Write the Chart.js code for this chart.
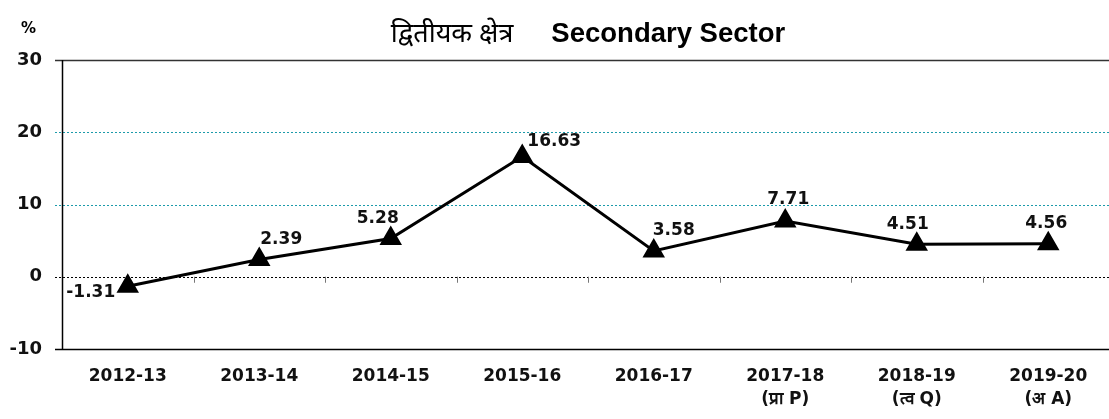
<!DOCTYPE html>
<html>
<head>
<meta charset="utf-8">
<script src="https://cdn.jsdelivr.net/npm/chart.js@4"></script>
<style>
  html, body { margin: 0; padding: 0; background: #fff; overflow: hidden; }
  canvas { display: block; }
</style>
</head>
<body>
<canvas id="sectorChart" width="1116" height="419"></canvas>
<script>
const years = [
  ['2012-13'], ['2013-14'], ['2014-15'], ['2015-16'], ['2016-17'],
  ['2017-18', '(प्रा P)'], ['2018-19', '(त्व Q)'], ['2019-20', '(अ A)']
];
const growth = [-1.31, 2.39, 5.28, 16.63, 3.58, 7.71, 4.51, 4.56];
const yTicks = [30, 20, 10, 0, -10];

// label nudges (x, y) relative to each point
const labelShift = [[-37, 6], [22, -20], [-13, -20], [32, -15], [20, -20], [3, -21], [-9, -20], [-2, -20]];

const BOLD = '"DejaVu Sans", sans-serif';

const decorPlugin = {
  id: 'decor',
  beforeDatasetsDraw(chart) {
    const { ctx, chartArea: { left, right, top, bottom }, scales: { x, y } } = chart;
    ctx.save();
    yTicks.forEach(v => {
      const yy = Math.round(y.getPixelForValue(v)) + 0.5;
      ctx.beginPath();
      if (v === 30 || v === -10) {
        ctx.setLineDash([]);
        ctx.strokeStyle = v === 30 ? '#333' : '#000';
        ctx.lineWidth = 1.5;
      } else if (v === 0) {
        ctx.setLineDash([2, 2]);
        ctx.strokeStyle = '#000';
        ctx.lineWidth = 1;
      } else {
        ctx.setLineDash([2, 2]);
        ctx.strokeStyle = '#1c9bab';
        ctx.lineWidth = 1;
      }
      ctx.moveTo(left - 7, yy);
      ctx.lineTo(right, yy);
      ctx.stroke();
    });
    // small ticks on the zero line at category boundaries
    ctx.setLineDash([]);
    ctx.strokeStyle = '#777';
    ctx.lineWidth = 1;
    const y0 = y.getPixelForValue(0);
    for (let i = 1; i < years.length; i++) {
      const xx = Math.round((x.getPixelForValue(i - 1) + x.getPixelForValue(i)) / 2) + 0.5;
      ctx.beginPath();
      ctx.moveTo(xx, y0);
      ctx.lineTo(xx, y0 + 6);
      ctx.stroke();
    }
    // left axis
    ctx.strokeStyle = '#000';
    ctx.lineWidth = 1.5;
    ctx.beginPath();
    ctx.moveTo(left + 0.5, top);
    ctx.lineTo(left + 0.5, bottom);
    ctx.stroke();
    ctx.restore();
  },
  afterDatasetsDraw(chart) {
    const { ctx } = chart;
    const meta = chart.getDatasetMeta(0);
    ctx.save();
    ctx.fillStyle = '#111';
    ctx.font = 'bold 17px ' + BOLD;
    ctx.textAlign = 'center';
    ctx.textBaseline = 'middle';
    meta.data.forEach((pt, i) => {
      const [dx, dy] = labelShift[i];
      ctx.fillText(growth[i].toFixed(2), pt.x + dx, pt.y + dy);
    });
    ctx.restore();
  },
  afterDraw(chart) {
    const { ctx } = chart;
    ctx.save();
    ctx.fillStyle = '#000';
    ctx.textBaseline = 'alphabetic';
    ctx.textAlign = 'left';
    ctx.font = 'bold 15px ' + BOLD;
    ctx.fillText('%', 21, 33);

    const hindi = 'द्वितीयक क्षेत्र';
    const eng = 'Secondary Sector';
    const hFont = '27px "Noto Sans", sans-serif';
    const eFont = 'bold 27.5px "Liberation Sans", Arial, sans-serif';
    ctx.font = hFont;
    const hw = ctx.measureText(hindi).width;
    ctx.font = eFont;
    const ew = ctx.measureText(eng).width;
    const gap = 38;
    const total = hw + gap + ew;
    const sx = 588 - total / 2;
    ctx.font = hFont;
    ctx.fillText(hindi, sx, 42);
    ctx.font = eFont;
    ctx.fillText(eng, sx + hw + gap, 42);
    ctx.restore();
  }
};

new Chart(document.getElementById('sectorChart'), {
  type: 'line',
  data: {
    labels: years,
    datasets: [{
      data: growth,
      borderColor: '#000',
      borderWidth: 3,
      backgroundColor: '#000',
      pointStyle: 'triangle',
      pointRadius: 10,
      pointHoverRadius: 10,
      pointBackgroundColor: '#000',
      pointBorderColor: '#000',
      tension: 0
    }]
  },
  options: {
    responsive: false,
    animation: false,
    layout: { autoPadding: false, padding: { top: 60, right: 2, left: 0, bottom: 0 } },
    plugins: {
      legend: { display: false },
      tooltip: { enabled: false }
    },
    scales: {
      x: {
        offset: true,
        grid: { display: false, drawTicks: false, offset: true },
        border: { display: false },
        ticks: {
          color: '#111',
          font: { family: BOLD, size: 17, weight: 'bold', lineHeight: 1.35 },
          padding: 16,
          maxRotation: 0,
          autoSkip: false
        },
        afterFit(scale) { scale.height = 70; }
      },
      y: {
        min: -10,
        max: 30,
        grid: { display: false, drawTicks: false },
        border: { display: false },
        ticks: {
          stepSize: 10,
          color: '#111',
          font: { family: BOLD, size: 18, weight: 'bold' },
          padding: 20
        },
        afterFit(scale) { scale.width = 62; }
      }
    }
  },
  plugins: [decorPlugin]
});
</script>
</body>
</html>
